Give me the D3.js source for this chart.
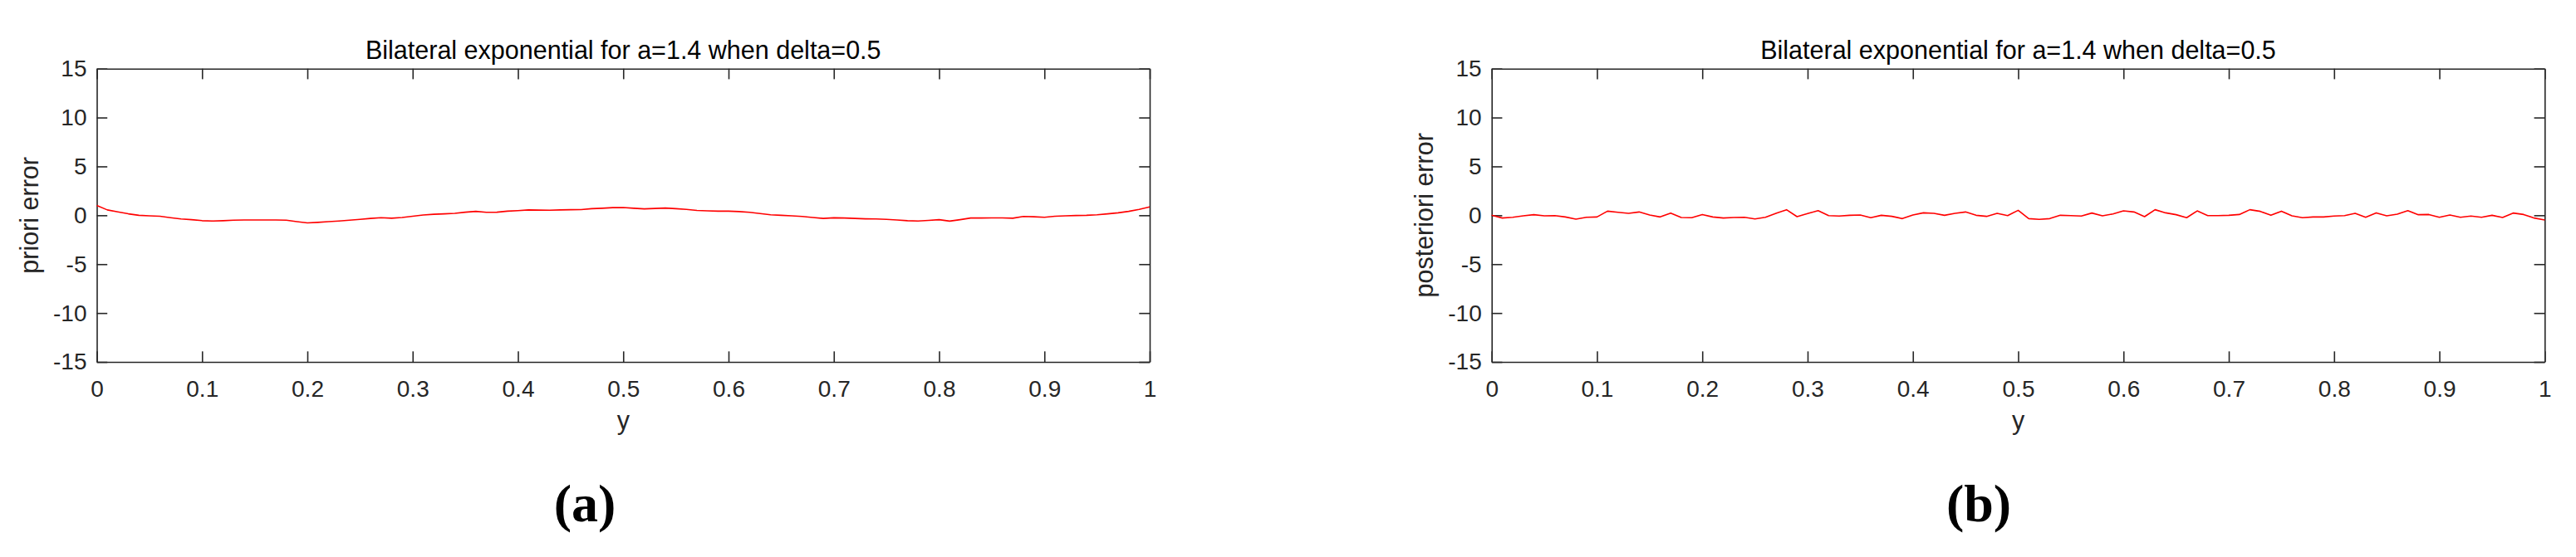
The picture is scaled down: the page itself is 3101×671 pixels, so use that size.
<!DOCTYPE html>
<html>
<head>
<meta charset="utf-8">
<script src="https://cdn.jsdelivr.net/npm/d3@7"></script>
<style>
  html, body { margin: 0; padding: 0; background: #fff; }
  svg { display: block; }
  text { font-family: "Liberation Sans", Arial, sans-serif; }
</style>
</head>
<body>
<svg id="chart" width="3101" height="671"></svg>
<script>
// ---- data ----
const xValues = d3.range(101).map(i => i / 100);
const xTicks = [0, 0.1, 0.2, 0.3, 0.4, 0.5, 0.6, 0.7, 0.8, 0.9, 1];
const xTickLabels = ["0", "0.1", "0.2", "0.3", "0.4", "0.5", "0.6", "0.7", "0.8", "0.9", "1"];
const yTicks = [-15, -10, -5, 0, 5, 10, 15];
const yTickLabels = ["-15", "-10", "-5", "0", "5", "10", "15"];

const prioriError = [
  1.00, 0.55, 0.35, 0.15, 0.00, -0.05, -0.10, -0.25, -0.38, -0.45,
  -0.55, -0.58, -0.55, -0.50, -0.48, -0.48, -0.48, -0.48, -0.50, -0.65,
  -0.78, -0.72, -0.65, -0.58, -0.50, -0.42, -0.32, -0.25, -0.30, -0.22,
  -0.10, 0.03, 0.10, 0.15, 0.20, 0.32, 0.40, 0.30, 0.32, 0.42,
  0.48, 0.55, 0.53, 0.52, 0.55, 0.57, 0.58, 0.68, 0.72, 0.78,
  0.80, 0.72, 0.66, 0.70, 0.74, 0.68, 0.60, 0.50, 0.45, 0.42,
  0.42, 0.38, 0.30, 0.18, 0.05, 0.00, -0.05, -0.12, -0.22, -0.32,
  -0.26, -0.28, -0.32, -0.36, -0.38, -0.42, -0.48, -0.55, -0.58, -0.52,
  -0.45, -0.60, -0.45, -0.28, -0.28, -0.27, -0.27, -0.30, -0.12, -0.15,
  -0.20, -0.10, -0.05, -0.02, 0.00, 0.05, 0.15, 0.25, 0.40, 0.60,
  0.85
];

const posterioriError = [
  0.00, -0.28, -0.20, -0.06, 0.06, -0.06, -0.03, -0.17, -0.40, -0.20,
  -0.17, 0.42, 0.31, 0.20, 0.34, 0.03, -0.17, 0.23, -0.23, -0.25,
  0.08, -0.17, -0.28, -0.23, -0.20, -0.37, -0.20, 0.20, 0.57, -0.14,
  0.17, 0.48, -0.03, -0.08, 0.00, 0.03, -0.25, 0.00, -0.11, -0.34,
  0.03, 0.25, 0.20, 0.00, 0.20, 0.34, 0.00, -0.11, 0.20, -0.03,
  0.51, -0.34, -0.42, -0.34, 0.00, -0.03, -0.08, 0.23, -0.06, 0.14,
  0.45, 0.34, -0.14, 0.57, 0.25, 0.06, -0.25, 0.45, -0.03, -0.03,
  0.00, 0.08, 0.57, 0.40, 0.00, 0.42, -0.06, -0.25, -0.17, -0.17,
  -0.08, -0.03, 0.20, -0.20, 0.25, -0.06, 0.11, 0.48, 0.06, 0.08,
  -0.20, 0.03, -0.20, -0.08, -0.20, 0.00, -0.23, 0.23, 0.08, -0.28,
  -0.48
];

const titles = ["Bilateral exponential for a=1.4 when delta=0.5", "Bilateral exponential for a=1.4 when delta=0.5"];
const yLabels = ["priori error", "posteriori error"];
const xLabel = "y";
const panelLabels = ["(a)", "(b)"];

// ---- layout ----
const svg = d3.select("#chart");
const axisColor = "#262626";
const panels = [
  { left: 116.5, right: 1384, top: 82.7, bottom: 436, data: prioriError },
  { left: 1795.7, right: 3063.3, top: 82.7, bottom: 436, data: posterioriError }
];
const panelLabelX = [704, 2382];

panels.forEach((p, i) => {
  const x = d3.scaleLinear().domain([0, 1]).range([p.left, p.right]);
  const y = d3.scaleLinear().domain([-15, 15]).range([p.bottom, p.top]);
  const g = svg.append("g");
  const tickLen = 12.7;

  const gb = g.append("g").attr("transform", `translate(0,${p.bottom})`)
    .call(d3.axisBottom(x).tickValues(xTicks).tickFormat((d, k) => xTickLabels[k])
      .tickSizeInner(-tickLen).tickSizeOuter(0).tickPadding(22.5));
  const gt = g.append("g").attr("transform", `translate(0,${p.top})`)
    .call(d3.axisTop(x).tickValues(xTicks).tickFormat("")
      .tickSizeInner(-tickLen).tickSizeOuter(0));
  const gl = g.append("g").attr("transform", `translate(${p.left},0)`)
    .call(d3.axisLeft(y).tickValues(yTicks).tickFormat((d, k) => yTickLabels[k])
      .tickSizeInner(-tickLen).tickSizeOuter(0).tickPadding(12));
  const gr = g.append("g").attr("transform", `translate(${p.right},0)`)
    .call(d3.axisRight(y).tickValues(yTicks).tickFormat("")
      .tickSizeInner(-tickLen).tickSizeOuter(0));

  [gb, gt, gl, gr].forEach(a => {
    a.selectAll("path.domain").attr("stroke", axisColor).attr("stroke-width", 1.6);
    a.selectAll(".tick line").attr("stroke", axisColor).attr("stroke-width", 1.6);
    a.selectAll(".tick text").attr("fill", axisColor)
      .style("font-size", "28px").style("font-family", "'Liberation Sans', Arial, sans-serif");
  });

  const line = d3.line().x((d, k) => x(xValues[k])).y(d => y(d));
  g.append("path").datum(p.data)
    .attr("fill", "none").attr("stroke", "#ff0000").attr("stroke-width", 1.6)
    .attr("stroke-linejoin", "round")
    .attr("d", line);

  const cx = (p.left + p.right) / 2;
  g.append("text").attr("x", cx).attr("y", 71).attr("text-anchor", "middle")
    .attr("fill", "#000").style("font-size", "30.5px").text(titles[i]);

  g.append("text").attr("x", cx).attr("y", 517).attr("text-anchor", "middle")
    .attr("fill", axisColor).style("font-size", "30.5px").text(xLabel);

  const cy = (p.top + p.bottom) / 2;
  g.append("text")
    .attr("transform", `translate(${p.left - 70.5},${cy}) rotate(-90)`)
    .attr("text-anchor", "middle")
    .attr("fill", axisColor).style("font-size", "30.5px").text(yLabels[i]);

  g.append("text").attr("x", panelLabelX[i]).attr("y", 628).attr("text-anchor", "middle")
    .attr("fill", "#000").style("font-family", "'Liberation Serif', 'Times New Roman', serif")
    .style("font-weight", "bold").style("font-size", "64px").text(panelLabels[i]);
});
</script>
</body>
</html>
